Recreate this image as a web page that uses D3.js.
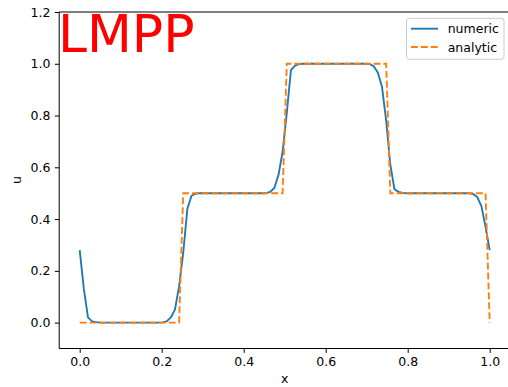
<!DOCTYPE html>
<html>
<head>
<meta charset="utf-8">
<script src="https://cdn.jsdelivr.net/npm/d3@7"></script>
<style>
  body { margin: 0; background: #fff; }
  svg { display: block; font-family: "DejaVu Sans", sans-serif; }
</style>
</head>
<body>
<svg width="508" height="387"></svg>
<script>
// numeric solution (grid points, flat stretches skipped)
const numX = [0, 0.0101, 0.0202, 0.0303, 0.0404, 0.0505, 0.1919, 0.2020, 0.2121, 0.2222, 0.2323,
  0.2424, 0.2525, 0.2626, 0.2727, 0.2828, 0.2929, 0.4545, 0.4646, 0.4747, 0.4848, 0.4949,
  0.5051, 0.5152, 0.5253, 0.5354, 0.5455, 0.6970, 0.7071, 0.7172, 0.7273, 0.7374, 0.7475,
  0.7576, 0.7677, 0.7778, 0.7879, 0.7980, 0.9394, 0.9495, 0.9596, 0.9697, 0.9798, 0.9899, 1.0];
const numU = [0.28, 0.13, 0.02, 0.005, 0.002, 0, 0, 0.001, 0.005, 0.02, 0.05,
  0.14, 0.27, 0.44, 0.49, 0.498, 0.5, 0.5, 0.505, 0.52, 0.57, 0.66,
  0.81, 0.975, 0.993, 0.999, 1, 1, 0.999, 0.99, 0.965, 0.91, 0.78,
  0.61, 0.515, 0.505, 0.501, 0.5, 0.5, 0.5, 0.497, 0.485, 0.45, 0.37, 0.28];

// analytic solution (corners of the step profile)
const anaX = [0, 0.2424, 0.2525, 0.4949, 0.5051, 0.7475, 0.7576, 0.9899, 1.0];
const anaU = [0, 0, 0.5, 0.5, 1, 1, 0.5, 0.5, 0];

const xTicks = [0, 0.2, 0.4, 0.6, 0.8, 1.0];
const yTicks = [0, 0.2, 0.4, 0.6, 0.8, 1.0, 1.2];

const svg = d3.select("svg");
const plotLeft = 59.2, plotRight = 510.2, plotTop = 12, plotBottom = 348.5;
const fs = 12.5, lw = 1.875, dash = "6.9,3";

const x = d3.scaleLinear().domain([-0.05, 1.05]).range([plotLeft, plotRight]);
const y = d3.scaleLinear().domain([-0.1, 1.2]).range([plotBottom, plotTop]);

const fmt = d3.format(".1f");

// axes
const xAxis = svg.append("g")
    .attr("transform", `translate(0,${plotBottom})`)
    .call(d3.axisBottom(x).tickValues(xTicks).tickFormat(fmt).tickSizeOuter(0).tickSize(4.4).tickPadding(4.4));
const yAxis = svg.append("g")
    .attr("transform", `translate(${plotLeft},0)`)
    .call(d3.axisLeft(y).tickValues(yTicks).tickFormat(fmt).tickSizeOuter(0).tickSize(4.4).tickPadding(4.4));

[xAxis, yAxis].forEach(a => {
  a.select(".domain").remove();
  a.selectAll("line").attr("stroke", "#000").attr("stroke-width", 1);
  a.selectAll("text").attr("font-size", fs).attr("fill", "#000")
      .attr("font-family", "DejaVu Sans");
});

// spines
const spine = (x1, y1, x2, y2) => svg.append("line")
    .attr("x1", x1).attr("y1", y1).attr("x2", x2).attr("y2", y2)
    .attr("stroke", "#000").attr("stroke-width", 1);
spine(plotLeft, plotBottom, plotRight, plotBottom);
spine(plotLeft, plotTop, plotRight, plotTop);
spine(plotLeft, plotTop, plotLeft, plotBottom);

// lines
const line = d3.line().x(d => x(d[0])).y(d => y(d[1]));

svg.append("path")
    .attr("d", line(d3.zip(numX, numU)))
    .attr("fill", "none")
    .attr("stroke", "#1f77b4")
    .attr("stroke-width", lw)
    .attr("stroke-linejoin", "round");

svg.append("path")
    .attr("d", line(d3.zip(anaX, anaU)))
    .attr("fill", "none")
    .attr("stroke", "#ff7f0e")
    .attr("stroke-width", lw)
    .attr("stroke-dasharray", dash);

// labels
svg.append("text").attr("x", x(0.5)).attr("y", 383).attr("text-anchor", "middle")
    .attr("font-size", fs).text("x");
svg.append("text").attr("transform", "translate(21,180) rotate(-90)")
    .attr("text-anchor", "middle").attr("font-size", fs).text("u");

svg.append("text").attr("x", 58).attr("y", 52)
    .attr("font-size", 52).attr("fill", "red").text("LMPP");

// legend
const lg = svg.append("g");
lg.append("rect").attr("x", 406.5).attr("y", 18.3).attr("width", 97.5).attr("height", 41)
    .attr("rx", 3).attr("fill", "#fff").attr("fill-opacity", 0.8)
    .attr("stroke", "#ccc").attr("stroke-width", 1);
const items = [["numeric", "#1f77b4", null], ["analytic", "#ff7f0e", dash]];
items.forEach((it, i) => {
  const yy = 28.7 + i * 18.3;
  lg.append("line").attr("x1", 411).attr("x2", 438).attr("y1", yy).attr("y2", yy)
      .attr("stroke", it[1]).attr("stroke-width", lw)
      .attr("stroke-dasharray", it[2]);
  lg.append("text").attr("x", 447.7).attr("y", yy + 4.5).attr("font-size", fs).text(it[0]);
});
</script>
</body>
</html>
